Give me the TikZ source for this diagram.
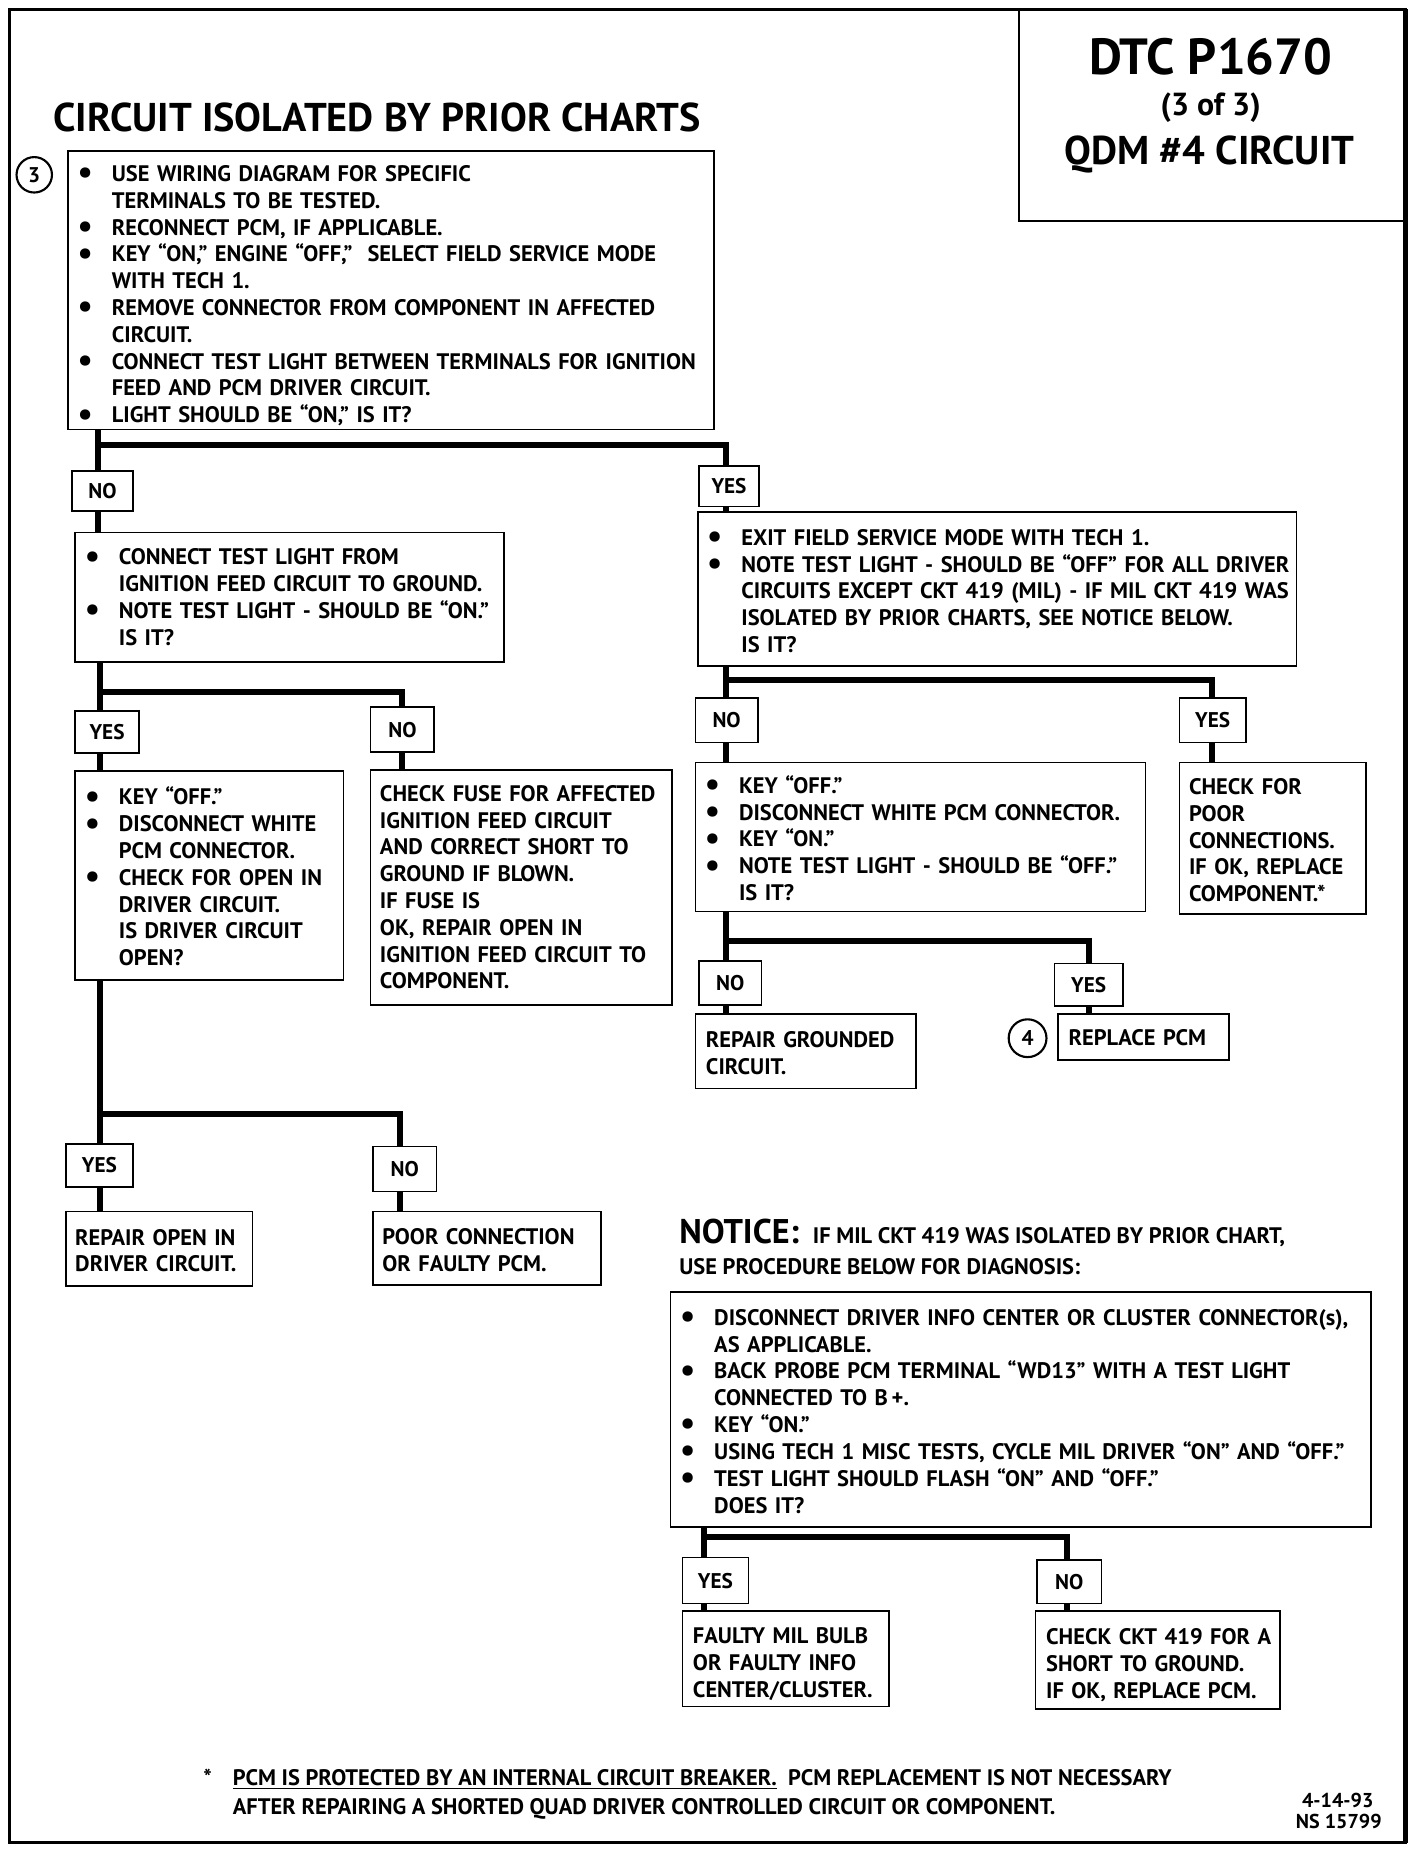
\documentclass[tikz,border=0pt]{standalone}
\usepackage{fontspec}
\setmainfont{PT Sans}
\newcommand\bodyf{\fontsize{19}{22.7}\selectfont\bfseries}
\newcommand\labf{\fontsize{18}{20}\selectfont\bfseries}
\newcommand\bl{\makebox[17pt][c]{\raisebox{-2pt}{\scalebox{1.5}{\textbullet}}}\hspace{14pt}}
\newcommand\ind{\hspace*{31pt}}
\newcommand\tp{\rule{0pt}{17pt}}
\newcommand\tpb{\rule{0pt}{23pt}}
\tikzset{
  conn/.style={line width=5pt},
  box/.style={draw, line width=1.4pt, anchor=north west, inner xsep=6pt, inner ysep=0pt, align=left, font=\bodyf},
  lab/.style={draw, line width=1.4pt, anchor=north west, inner sep=0pt, font=\labf, align=center},
  txt/.style={inner sep=0pt, font=\bodyf}
}
\begin{document}
\begin{tikzpicture}[x=1pt,y=-1pt]
\useasboundingbox (0,0) rectangle (1206,1568);
% frame
\draw[line width=3pt] (8,8) rectangle (1190,1560);
\draw[line width=4.5pt] (1190,8) -- (1190,1560);
\node[draw, line width=1.6pt, anchor=north west, minimum width=328pt, minimum height=178pt, inner sep=0pt] (title) at (862,8) {};
\node[inner sep=0pt, anchor=base, font=\fontsize{43}{43}\selectfont\bfseries] (dtc) at (1025,63) {DTC P1670};
\node[inner sep=0pt, anchor=base, font=\fontsize{27}{27}\selectfont\bfseries] (part) at (1025,98) {(3 of 3)};
\node[inner sep=0pt, anchor=base, font=\fontsize{34}{34}\selectfont\bfseries] (qdm) at (1024,139) {QDM \#4 CIRCUIT};
\node[inner sep=0pt, anchor=base west, font=\fontsize{34}{34}\selectfont\bfseries] (head) at (45,111) {CIRCUIT ISOLATED BY PRIOR CHARTS};

% circle 3
\node[circle, draw, line width=1.8pt, minimum size=30pt, inner sep=0pt, font=\labf] (c3) at (29,148) {3};

% boxes
\node[box, minimum width=547pt, minimum height=236pt, text width=535pt] (b1) at (57,127) {%
\tpb\bl USE WIRING DIAGRAM FOR SPECIFIC\\
\ind TERMINALS TO BE TESTED.\\
\bl RECONNECT PCM, IF APPLICABLE.\\
\bl KEY “ON,” ENGINE “OFF,”\ \ SELECT FIELD SERVICE MODE\\
\ind WITH TECH 1.\\
\bl REMOVE CONNECTOR FROM COMPONENT IN AFFECTED\\
\ind CIRCUIT.\\
\bl CONNECT TEST LIGHT BETWEEN TERMINALS FOR IGNITION\\
\ind FEED AND PCM DRIVER CIRCUIT.\\
\bl LIGHT SHOULD BE “ON,” IS IT?};

\node[lab, minimum width=52pt, minimum height=34pt] (no1) at (60,398) {NO};
\node[lab, minimum width=51pt, minimum height=34pt] (yes1) at (591,394) {YES};

\node[box, minimum width=363pt, minimum height=110pt, text width=351pt] (b2) at (63,450) {%
\bl CONNECT TEST LIGHT FROM\\
\ind IGNITION FEED CIRCUIT TO GROUND.\\
\bl NOTE TEST LIGHT - SHOULD BE “ON.”\\
\ind IS IT?};

\node[box, minimum width=507pt, minimum height=130pt, text width=495pt] (b3) at (590,433) {%
\tp\bl EXIT FIELD SERVICE MODE WITH TECH 1.\\
\bl NOTE TEST LIGHT - SHOULD BE “OFF” FOR ALL DRIVER\\
\ind CIRCUITS EXCEPT CKT 419 (MIL) - IF MIL CKT 419 WAS\\
\ind ISOLATED BY PRIOR CHARTS, SEE NOTICE BELOW.\\
\ind IS IT?};

\node[lab, minimum width=54pt, minimum height=36pt] (yes2) at (63,601) {YES};
\node[lab, minimum width=54pt, minimum height=38pt] (no2) at (313,598) {NO};

\node[box, minimum width=227pt, minimum height=177pt, text width=215pt] (b4) at (63,652) {%
\tp\bl KEY “OFF.”\\
\bl DISCONNECT WHITE\\
\ind PCM CONNECTOR.\\
\bl CHECK FOR OPEN IN\\
\ind DRIVER CIRCUIT.\\
\ind IS DRIVER CIRCUIT\\
\ind OPEN?};

\node[box, inner xsep=8pt, minimum width=255pt, minimum height=199pt, text width=239pt] (b5) at (313,651) {%
CHECK FUSE FOR AFFECTED\\
IGNITION FEED CIRCUIT\\
AND CORRECT SHORT TO\\
GROUND IF BLOWN.\\
IF FUSE IS\\
OK, REPAIR OPEN IN\\
IGNITION FEED CIRCUIT TO\\
COMPONENT.};

\node[lab, minimum width=57pt, minimum height=36pt] (yes3) at (55,968) {YES};
\node[lab, minimum width=54pt, minimum height=38pt] (no3) at (315,970) {NO};

\node[box, inner xsep=8pt, minimum width=158pt, minimum height=63pt, text width=142pt] (b6) at (55,1025) {%
\tp REPAIR OPEN IN\\
DRIVER CIRCUIT.};
\node[box, inner xsep=8pt, minimum width=193pt, minimum height=62pt, text width=177pt] (b7) at (315,1025) {%
\tp POOR CONNECTION\\
OR FAULTY PCM.};

\node[lab, minimum width=53pt, minimum height=38pt] (no4) at (588,590) {NO};
\node[lab, minimum width=56pt, minimum height=38pt] (yes4) at (998,590) {YES};

\node[box, minimum width=381pt, minimum height=126pt, text width=369pt] (b8) at (588,645) {%
\tp\bl KEY “OFF.”\\
\bl DISCONNECT WHITE PCM CONNECTOR.\\
\bl KEY “ON.”\\
\bl NOTE TEST LIGHT - SHOULD BE “OFF.”\\
\ind IS IT?};

\node[box, inner xsep=8pt, minimum width=158pt, minimum height=128pt, text width=142pt] (b9) at (998,645) {%
\tp CHECK FOR\\
POOR\\
CONNECTIONS.\\
IF OK, REPLACE\\
COMPONENT.*};

\node[lab, minimum width=53pt, minimum height=37pt] (no5) at (591,813) {NO};
\node[lab, minimum width=58pt, minimum height=36pt] (yes5) at (892,815) {YES};

\node[box, inner xsep=9pt, minimum width=187pt, minimum height=63pt, text width=169pt] (b10) at (588,858) {%
\tp REPAIR GROUNDED\\
CIRCUIT.};
\node[box, inner xsep=9pt, minimum width=145pt, minimum height=39pt, text width=127pt] (b11) at (895,858) {REPLACE PCM};
\node[circle, draw, line width=1.8pt, minimum size=32pt, inner sep=0pt, font=\labf] (c4) at (870,879) {4};

% notice
\node[inner sep=0pt, anchor=base west, font=\fontsize{29}{29}\selectfont\bfseries] (notice) at (575,1053) {NOTICE:};
\node[txt, anchor=base west] (notice2) at (688,1053) {IF MIL CKT 419 WAS ISOLATED BY PRIOR CHART,};
\node[txt, anchor=base west] (notice3) at (575,1079) {USE PROCEDURE BELOW FOR DIAGNOSIS:};

\node[box, minimum width=593pt, minimum height=199pt, text width=581pt] (b12) at (567,1093) {%
\tp\bl DISCONNECT DRIVER INFO CENTER OR CLUSTER CONNECTOR(s),\\
\ind AS APPLICABLE.\\
\bl BACK PROBE PCM TERMINAL “WD13” WITH A TEST LIGHT\\
\ind CONNECTED TO B\,+.\\
\bl KEY “ON.”\\
\bl USING TECH 1 MISC TESTS, CYCLE MIL DRIVER “ON” AND “OFF.”\\
\bl TEST LIGHT SHOULD FLASH “ON” AND “OFF.”\\
\ind DOES IT?};

\node[lab, minimum width=56pt, minimum height=39pt] (yes6) at (577,1318) {YES};
\node[lab, minimum width=55pt, minimum height=37pt] (no6) at (877,1320) {NO};

\node[box, inner xsep=9pt, minimum width=175pt, minimum height=81pt, text width=157pt] (b13) at (577,1363) {%
\tpb FAULTY MIL BULB\\
OR FAULTY INFO\\
CENTER/CLUSTER.};
\node[box, inner xsep=9pt, minimum width=207pt, minimum height=83pt, text width=189pt] (b14) at (876,1363) {%
\tpb\mbox{CHECK CKT 419 FOR A}\\
SHORT TO GROUND.\\
IF OK, REPLACE PCM.};

% footer
\node[txt, anchor=base west] (star) at (172,1512) {*};
\node[txt, anchor=base west] (foot1) at (197,1512) {\underline{PCM IS PROTECTED BY AN INTERNAL CIRCUIT BREAKER.}\ \ PCM REPLACEMENT IS NOT NECESSARY};
\node[txt, anchor=base west] (foot2) at (197,1536) {AFTER REPAIRING A SHORTED QUAD DRIVER CONTROLLED CIRCUIT OR COMPONENT.};
\node[txt, anchor=base east, font=\fontsize{17}{17}\selectfont\bfseries] (date) at (1163,1530) {4-14-93};
\node[txt, anchor=base east, font=\fontsize{17}{17}\selectfont\bfseries] (ns) at (1170,1548) {NS 15799};

% connectors
\coordinate (j1) at (83,377);
\coordinate (j1r) at (615,377);
\draw[conn] (b1.south -| j1) -- (no1.north -| j1);
\draw[conn] (j1) -- (j1r) -- (yes1.north -| j1r);
\draw[conn] (no1.south -| j1) -- (b2.north -| j1);
\draw[conn] (yes1.south -| j1r) -- (b3.north -| j1r);

\coordinate (j2) at (85,586);
\coordinate (j2r) at (340,586);
\draw[conn] (b2.south -| j2) -- (yes2.north -| j2);
\draw[conn] (j2) -- (j2r) -- (no2.north -| j2r);
\draw[conn] (yes2.south -| j2) -- (b4.north -| j2);
\draw[conn] (no2.south -| j2r) -- (b5.north -| j2r);

\coordinate (j3) at (85,943);
\coordinate (j3r) at (339,943);
\draw[conn] (b4.south -| j3) -- (yes3.north -| j3);
\draw[conn] (j3) -- (j3r) -- (no3.north -| j3r);
\draw[conn] (yes3.south -| j3) -- (b6.north -| j3);
\draw[conn] (no3.south -| j3r) -- (b7.north -| j3r);

\coordinate (j4) at (615,576);
\coordinate (j4r) at (1026,576);
\draw[conn] (b3.south -| j4) -- (no4.north -| j4);
\draw[conn] (j4) -- (j4r) -- (yes4.north -| j4r);
\draw[conn] (no4.south -| j4) -- (b8.north -| j4);
\draw[conn] (yes4.south -| j4r) -- (b9.north -| j4r);

\coordinate (j5) at (615,797);
\coordinate (j5r) at (922,797);
\draw[conn] (b8.south -| j5) -- (no5.north -| j5);
\draw[conn] (j5) -- (j5r) -- (yes5.north -| j5r);
\draw[conn] (no5.south -| j5) -- (b10.north -| j5);
\draw[conn] (yes5.south -| j5r) -- (b11.north -| j5r);

\coordinate (j6) at (596,1301);
\coordinate (j6r) at (903,1301);
\draw[conn] (b12.south -| j6) -- (yes6.north -| j6);
\draw[conn] (j6) -- (j6r) -- (no6.north -| j6r);
\draw[conn] (yes6.south -| j6) -- (b13.north -| j6);
\draw[conn] (no6.south -| j6r) -- (b14.north -| j6r);
\end{tikzpicture}
\end{document}
